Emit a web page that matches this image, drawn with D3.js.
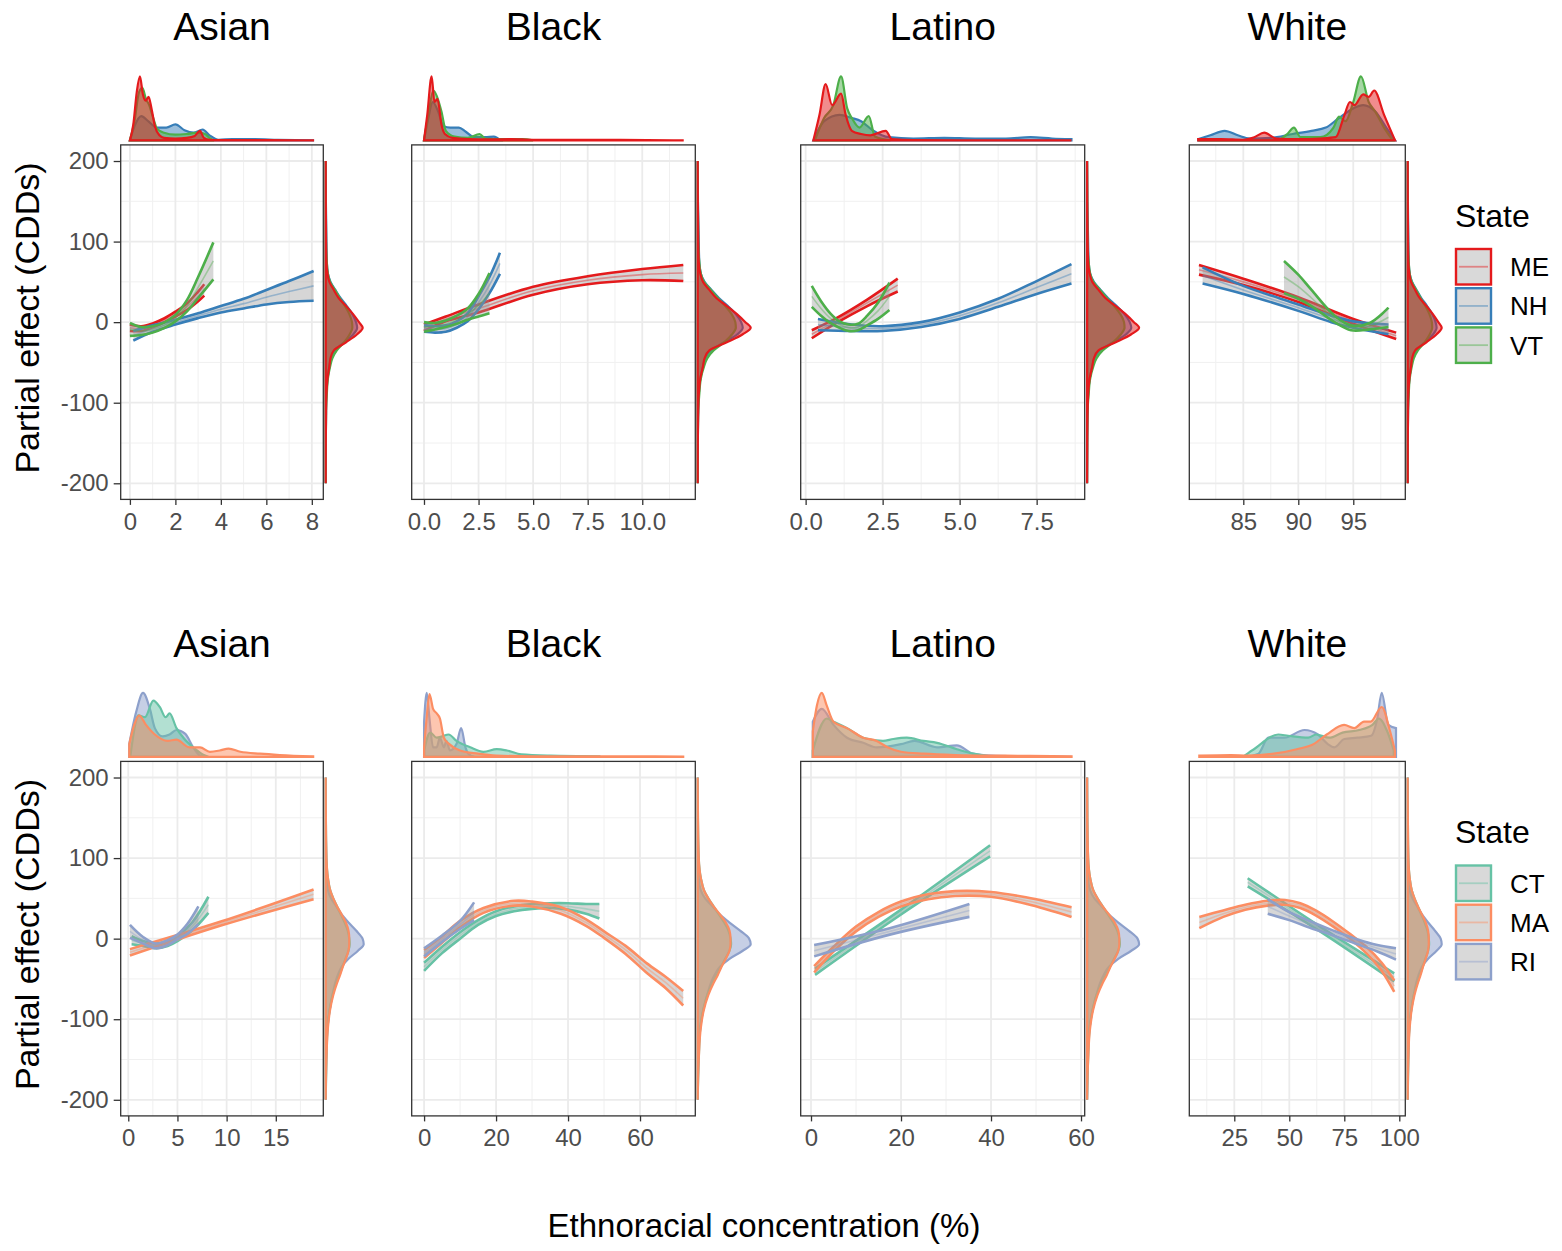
<!DOCTYPE html>
<html><head><meta charset="utf-8">
<script src="https://cdn.jsdelivr.net/npm/d3@7"></script>
<style>body{margin:0;background:#fff}svg{display:block}</style>
</head><body><svg id="chart" width="1562" height="1251"></svg>
<script>
// ---------------- DATA ----------------
const groups = ["Asian", "Black", "Latino", "White"];
const statesTop = ["ME", "NH", "VT"];
const statesBottom = ["CT", "MA", "RI"];
const colorsTop = ["#E41A1C", "#377EB8", "#4DAF4A"];
const colorsBottom = ["#66C2A5", "#FC8D62", "#8DA0CB"];
const yTicks = [-200, -100, 0, 100, 200];
const yTickLabels = ["-200", "-100", "0", "100", "200"];
const xTicksTop = [[0, 2, 4, 6, 8], [0, 2.5, 5, 7.5, 10], [0, 2.5, 5, 7.5], [85, 90, 95]];
const xLabelsTop = [["0", "2", "4", "6", "8"], ["0.0", "2.5", "5.0", "7.5", "10.0"], ["0.0", "2.5", "5.0", "7.5"], ["85", "90", "95"]];
const xTicksBottom = [[0, 5, 10, 15], [0, 20, 40, 60], [0, 20, 40, 60], [25, 50, 75, 100]];
const xLabelsBottom = [["0", "5", "10", "15"], ["0", "20", "40", "60"], ["0", "20", "40", "60"], ["25", "50", "75", "100"]];

// fitted partial effects: [state, x, fit, half-width of band]
const fitAsianTop = [
  ["ME",0,-7,4],["ME",0.5,-8,3],["ME",1,-4,2.5],["ME",1.5,2,2.5],["ME",2,10,3],["ME",2.5,19,4],["ME",3,32,6],["ME",3.27,40,7],
  ["NH",0.15,-17,6],["NH",1,-8,4],["NH",2,0,3],["NH",3,8,3],["NH",4,16,4],["NH",5,23,6],["NH",6,31,9],["NH",7,38,13],["NH",8.08,45,18.5],
  ["VT",0,-9,8],["VT",0.5,-11,5],["VT",1,-9,4],["VT",1.5,-4,3.5],["VT",2,5,4],["VT",2.5,20,7],["VT",3,43,13],["VT",3.67,76,23]
];
const fitBlackTop = [
  ["ME",0,-7,4],["ME",1,4,3],["ME",2.5,17,5],["ME",5,39,5],["ME",7.5,52,5],["ME",10,59,7],["ME",11.88,61,10],
  ["NH",0,-8,4],["NH",0.5,-9,4],["NH",1,-8,4],["NH",1.5,-3,4],["NH",2,6,5],["NH",2.5,24,8],["NH",3,46,10],["NH",3.48,73,13],
  ["VT",0,-6,6],["VT",0.5,-5,4],["VT",1,-2,4],["VT",1.5,3,5],["VT",2,10,7],["VT",2.5,21,14],["VT",3,36,25]
];
const fitLatinoTop = [
  ["ME",0.2,-15,5],["ME",1,2,3],["ME",2,24,4],["ME",2.99,46,8],
  ["NH",0.4,-3,7],["NH",1.5,-7,4],["NH",2.5,-8,3],["NH",3.75,-3,3],["NH",5,8,4],["NH",6.25,24,5],["NH",7.5,43,8],["NH",8.63,60,12],
  ["VT",0.2,32,13],["VT",0.5,17,9],["VT",0.8,5,6],["VT",1.1,-3,4],["VT",1.4,-7,4],["VT",1.7,-6,4],["VT",2.0,2,6],["VT",2.35,14,10],["VT",2.72,32,17]
];
const fitWhiteTop = [
  ["ME",80.97,65,6],["ME",85,50,4],["ME",90,28,3],["ME",95,1,3],["ME",98.9,-17,4],
  ["NH",81.3,58,10],["NH",85,40,5],["NH",90,18,4],["NH",93,4,4],["NH",95,-3,4],["NH",98.2,-9,6],
  ["VT",88.7,56,20],["VT",90,44,15],["VT",91.2,30,10],["VT",93.3,4,4],["VT",94.8,-7,3],["VT",96.5,-5,4],["VT",98.2,6,12]
];
const fitAsianBottom = [
  ["CT",0.34,-2,5],["CT",1.5,-6,3],["CT",2.8,-9,3],["CT",4,-6,3],["CT",5,0,3],["CT",6.5,15,5],["CT",8.15,42,10],
  ["MA",0.17,-17,4],["MA",9.5,19,2.5],["MA",18.84,55,6],
  ["RI",0.17,9,8],["RI",1.5,-2,4],["RI",2.8,-9,3],["RI",4,-5,3],["RI",5,2,3],["RI",6,12,6],["RI",7.13,29,11]
];
const fitBlackBottom = [
  ["CT",0,-35,5],["CT",5,-14,4],["CT",10,4,4],["CT",15,20,3],["CT",20,31,3],["CT",25,37,3],["CT",30,40,3],["CT",35,41,3],["CT",40,40,4],["CT",45,37,6],["CT",48.7,34,9],
  ["MA",0,-19,5],["MA",5,-1,4],["MA",10,18,4],["MA",16.5,35,3],["MA",25,44,3],["MA",30,43,3],["MA",38,35,4],["MA",45,20,4],["MA",50,5,4],["MA",56,-14,5],["MA",62,-37,6],["MA",67,-54,7],["MA",72,-74,9],
  ["RI",0,-17,5],["RI",5,0,4],["RI",10,17,5],["RI",13.9,34,11]
];
const fitLatinoBottom = [
  ["CT",0.9,-41,4],["CT",20,33,3],["CT",39.8,109,7],
  ["MA",0.7,-38,4],["MA",5,-13,3],["MA",10,12,3],["MA",15,30,3],["MA",20,43,3],["MA",26,52,3],["MA",32,56,3],["MA",40,55,3],["MA",48,47,4],["MA",57.9,33,6],
  ["RI",0.7,-15,7],["RI",17.5,9,4],["RI",35.2,35,8]
];
const fitWhiteBottom = [
  ["CT",31.1,70,5],["CT",64,12,3],["CT",97.7,-48,5],
  ["MA",9.1,20,7],["MA",20,31,4],["MA",30,39,3],["MA",40,44,3],["MA",48,45,3],["MA",55,41,3],["MA",62,32,3],["MA",70,18,3],["MA",78,2,3],["MA",85,-14,4],["MA",92,-35,5],["MA",97.7,-59,7],
  ["RI",40.2,40,9],["RI",50,28,5],["RI",60,17,4],["RI",70,7,3],["RI",80,-3,3],["RI",90,-12,4],["RI",98.5,-19,7]
];

// marginal densities of concentration: [state, x, relative height]
const densAsianTop = [
  ["ME",0,0],["ME",0.15,0.25],["ME",0.3,0.75],["ME",0.44,1.0],["ME",0.57,0.72],["ME",0.69,0.62],["ME",0.82,0.68],["ME",0.95,0.5],["ME",1.1,0.22],["ME",1.3,0.08],["ME",1.5,0.04],["ME",2.0,0.03],["ME",2.5,0.04],["ME",2.85,0.07],["ME",3.08,0.15],["ME",3.25,0.04],["ME",3.5,0.01],["ME",4,0.005],["ME",6,0.003],["ME",8.1,0],
  ["VT",0,0],["VT",0.2,0.3],["VT",0.4,0.75],["VT",0.55,0.82],["VT",0.7,0.65],["VT",0.85,0.55],["VT",1.0,0.38],["VT",1.2,0.18],["VT",1.5,0.12],["VT",2.0,0.09],["VT",2.5,0.1],["VT",3.0,0.12],["VT",3.3,0.1],["VT",3.5,0.04],["VT",3.7,0],
  ["NH",0,0],["NH",0.2,0.22],["NH",0.5,0.38],["NH",0.8,0.3],["NH",1.2,0.2],["NH",1.6,0.2],["NH",2.0,0.25],["NH",2.4,0.16],["NH",2.8,0.12],["NH",3.2,0.17],["NH",3.5,0.08],["NH",3.9,0.01],["NH",4.5,0.02],["NH",5.5,0.02],["NH",6.5,0.01],["NH",8.1,0]
];
const densBlackTop = [
  ["ME",0,0],["ME",0.15,0.4],["ME",0.35,1.0],["ME",0.48,0.6],["ME",0.62,0.65],["ME",0.8,0.25],["ME",0.96,0.1],["ME",1.3,0.04],["ME",2,0.02],["ME",3,0.015],["ME",4,0.02],["ME",5,0.01],["ME",7,0.01],["ME",9,0.01],["ME",11.9,0],
  ["VT",0,0],["VT",0.2,0.4],["VT",0.43,0.78],["VT",0.6,0.68],["VT",0.8,0.45],["VT",1.0,0.15],["VT",1.4,0.06],["VT",2.0,0.04],["VT",2.55,0.1],["VT",2.8,0.03],["VT",3.5,0.02],["VT",4.5,0.02],["VT",5,0],
  ["NH",0,0],["NH",0.2,0.35],["NH",0.4,0.6],["NH",0.65,0.45],["NH",0.9,0.22],["NH",1.2,0.2],["NH",1.6,0.2],["NH",1.9,0.14],["NH",2.3,0.05],["NH",2.8,0.05],["NH",3.2,0.06],["NH",3.5,0]
];
const densLatinoTop = [
  ["ME",0.25,0],["ME",0.45,0.4],["ME",0.65,0.88],["ME",0.86,0.55],["ME",1.15,0.73],["ME",1.3,0.4],["ME",1.5,0.15],["ME",1.8,0.1],["ME",2.1,0.08],["ME",2.6,0.15],["ME",2.8,0.02],["ME",3.5,0.005],["ME",8.63,0],
  ["VT",0.3,0],["VT",0.6,0.35],["VT",0.9,0.55],["VT",1.15,1.0],["VT",1.35,0.5],["VT",1.5,0.35],["VT",1.75,0.2],["VT",2.05,0.38],["VT",2.25,0.06],["VT",2.75,0],
  ["NH",0.25,0],["NH",0.6,0.3],["NH",1.1,0.4],["NH",1.5,0.35],["NH",1.8,0.3],["NH",2.2,0.15],["NH",2.7,0.05],["NH",3.5,0.03],["NH",4.5,0.04],["NH",5.5,0.03],["NH",6.5,0.03],["NH",7.3,0.05],["NH",8,0.03],["NH",8.63,0.02]
];
const densWhiteTop = [
  ["ME",80.9,0.02],["ME",83,0.02],["ME",85,0.01],["ME",86,0.05],["ME",86.9,0.12],["ME",88,0.03],["ME",90,0.02],["ME",92,0.03],["ME",93.4,0.05],["ME",94.2,0.4],["ME",94.7,0.6],["ME",95.1,0.55],["ME",95.9,0.72],["ME",96.4,0.68],["ME",96.9,0.78],["ME",97.8,0.4],["ME",98.8,0],
  ["VT",80.9,0],["VT",88,0],["VT",89,0.1],["VT",89.6,0.2],["VT",90.2,0.05],["VT",92,0.05],["VT",93.2,0.2],["VT",93.7,0.37],["VT",94.3,0.3],["VT",95.0,0.6],["VT",95.7,1.0],["VT",96.4,0.6],["VT",97,0.45],["VT",97.8,0.2],["VT",98.6,0],
  ["NH",80.9,0.02],["NH",82,0.08],["NH",83.3,0.15],["NH",84.5,0.08],["NH",85.6,0.03],["NH",87.5,0.04],["NH",89.5,0.1],["NH",91.2,0.15],["NH",92.5,0.2],["NH",93.7,0.35],["NH",95.0,0.5],["NH",95.9,0.55],["NH",97,0.45],["NH",98,0.2],["NH",98.8,0]
];
const densAsianBottom = [
  ["RI",0.1,0.2],["RI",0.8,0.7],["RI",1.5,1.0],["RI",2.2,0.75],["RI",2.7,0.45],["RI",3.5,0.32],["RI",4.2,0.35],["RI",4.9,0.42],["RI",5.8,0.36],["RI",6.6,0.15],["RI",7.3,0.02],["RI",8,0],
  ["CT",0.2,0],["CT",0.7,0.5],["CT",1.0,0.65],["CT",1.7,0.62],["CT",2.55,0.88],["CT",3.2,0.78],["CT",3.8,0.62],["CT",4.2,0.68],["CT",4.9,0.45],["CT",5.6,0.3],["CT",6.6,0.15],["CT",7.8,0.02],["CT",8.15,0],
  ["MA",0.1,0.2],["MA",0.6,0.5],["MA",1.1,0.65],["MA",1.8,0.5],["MA",2.7,0.35],["MA",4.0,0.25],["MA",4.9,0.27],["MA",6.2,0.15],["MA",7.3,0.15],["MA",8.3,0.08],["MA",9.3,0.1],["MA",10.2,0.13],["MA",11.4,0.08],["MA",13.4,0.05],["MA",15.4,0.03],["MA",18.8,0.01]
];
const densBlackBottom = [
  ["RI",0,0.55],["RI",0.74,1.0],["RI",1.5,0.6],["RI",2.5,0.15],["RI",3.5,0.15],["RI",4.4,0.3],["RI",5.5,0.15],["RI",6.2,0.25],["RI",7.2,0.1],["RI",9,0.2],["RI",10.3,0.45],["RI",11.5,0.15],["RI",12.3,0.05],["RI",14,0],
  ["MA",0,0.15],["MA",0.7,0.6],["MA",1.5,0.98],["MA",2.5,0.75],["MA",3.5,0.68],["MA",4.4,0.6],["MA",5.5,0.3],["MA",7,0.2],["MA",10,0.1],["MA",15,0.05],["MA",20,0.02],["MA",30,0.01],["MA",50,0.01],["MA",72,0.005],
  ["CT",0,0.1],["CT",1.7,0.38],["CT",3.5,0.3],["CT",5,0.32],["CT",6.8,0.35],["CT",9,0.25],["CT",12.8,0.15],["CT",16.5,0.08],["CT",20.2,0.12],["CT",23,0.1],["CT",27,0.04],["CT",35,0.02],["CT",48.7,0.01]
];
const densLatinoBottom = [
  ["MA",0.4,0.4],["MA",1.3,0.8],["MA",2.4,1.0],["MA",3.5,0.8],["MA",5,0.55],["MA",8,0.45],["MA",11.6,0.3],["MA",14.6,0.25],["MA",17,0.15],["MA",20,0.08],["MA",25,0.05],["MA",32,0.03],["MA",43,0.02],["MA",57.9,0.01],
  ["RI",0.4,0.55],["RI",2.4,0.75],["RI",5,0.5],["RI",8,0.3],["RI",11.6,0.22],["RI",14.6,0.15],["RI",20,0.2],["RI",23,0.25],["RI",28,0.15],["RI",32.4,0.18],["RI",36,0.05],["RI",40,0.02],["RI",48,0.01],["RI",57.9,0],
  ["CT",0.4,0.1],["CT",3.5,0.6],["CT",5,0.55],["CT",8,0.45],["CT",11.6,0.3],["CT",16,0.25],["CT",18.3,0.28],["CT",21.3,0.3],["CT",25,0.25],["CT",28,0.22],["CT",32.4,0.12],["CT",36,0.05],["CT",39.8,0.01]
];
const densWhiteBottom = [
  ["RI",9.1,0],["RI",30,0],["RI",36,0.05],["RI",40.5,0.3],["RI",47.8,0.3],["RI",56.9,0.42],["RI",63,0.35],["RI",67.5,0.2],["RI",70.5,0.15],["RI",75,0.28],["RI",81,0.3],["RI",87.2,0.33],["RI",90,0.6],["RI",92,1.0],["RI",95,0.5],["RI",98.5,0.45],
  ["CT",9.1,0],["CT",28,0],["CT",33,0.1],["CT",45,0.35],["CT",49.5,0.33],["CT",58.6,0.3],["CT",62.2,0.35],["CT",68.2,0.3],["CT",74.2,0.38],["CT",81.8,0.42],["CT",87.8,0.5],["CT",90.7,0.6],["CT",94.5,0.4],["CT",97.5,0.1],
  ["MA",9.1,0.02],["MA",23.5,0.03],["MA",31,0.02],["MA",43,0.05],["MA",53.4,0.12],["MA",61,0.2],["MA",67,0.35],["MA",74.9,0.5],["MA",79.5,0.45],["MA",84,0.55],["MA",87,0.55],["MA",92,0.78],["MA",95.8,0.4],["MA",98,0.1]
];

// marginal densities of partial effect (shared grid of effect values)
const yDensGrid = [-200,-150,-110,-90,-70,-55,-45,-35,-25,-15,-7,0,10,20,30,40,50,60,75,100,150,200];
const rdensME = [0,0.003,0.01,0.02,0.05,0.1,0.13,0.22,0.55,0.85,1.0,0.9,0.74,0.55,0.35,0.22,0.1,0.05,0.02,0.01,0.003,0];
const rdensNH = [0,0.003,0.01,0.02,0.05,0.1,0.14,0.25,0.5,0.75,0.85,0.82,0.72,0.57,0.4,0.26,0.13,0.06,0.03,0.02,0.005,0];
const rdensVT = [0,0.003,0.01,0.03,0.06,0.12,0.18,0.3,0.5,0.65,0.72,0.71,0.64,0.52,0.38,0.25,0.12,0.06,0.03,0.01,0.004,0];
const rdensCT = [0,0.02,0.05,0.1,0.18,0.28,0.36,0.44,0.52,0.6,0.63,0.62,0.58,0.5,0.4,0.3,0.2,0.12,0.06,0.02,0.005,0];
const rdensMA = [0,0.02,0.06,0.11,0.2,0.3,0.38,0.45,0.53,0.6,0.62,0.62,0.6,0.53,0.42,0.3,0.2,0.12,0.06,0.02,0.005,0];
const rdensRI = [0,0.01,0.05,0.1,0.18,0.25,0.32,0.42,0.6,0.85,1.0,0.97,0.8,0.6,0.42,0.28,0.14,0.06,0.02,0.01,0,0];

// ---------------- LAYOUT ----------------
const FONT = "'Liberation Sans', Arial, Helvetica, sans-serif";
const panelX = [[120.7, 323.3], [411.7, 695.3], [800.7, 1084.7], [1189.3, 1405.3]];
const xDomTop = [[-0.405, 8.505], [-0.563, 12.43], [-0.16, 9.06], [80.09, 99.73]];
const xDomBottom = [[-0.77, 19.83], [-3.44, 75.36], [-2.29, 60.82], [4.55, 102.73]];
const rows = [
  {states: statesTop, colors: colorsTop, fits: [fitAsianTop, fitBlackTop, fitLatinoTop, fitWhiteTop],
   dens: [densAsianTop, densBlackTop, densLatinoTop, densWhiteTop], rdens: [rdensME, rdensNH, rdensVT],
   xDom: xDomTop, xTicks: xTicksTop, xLabels: xLabelsTop, rW: [37, 53, 52, 34], dy: 0, densOrder: ["NH", "VT", "ME"]},
  {states: statesBottom, colors: colorsBottom, fits: [fitAsianBottom, fitBlackBottom, fitLatinoBottom, fitWhiteBottom],
   dens: [densAsianBottom, densBlackBottom, densLatinoBottom, densWhiteBottom], rdens: [rdensCT, rdensMA, rdensRI],
   xDom: xDomBottom, xTicks: xTicksBottom, xLabels: xLabelsBottom, rW: [38, 53, 52, 34], dy: 616.5, densOrder: ["RI", "CT", "MA"]}
];

const svg = d3.select("#chart");
svg.append("rect").attr("width", 1562).attr("height", 1251).attr("fill", "#fff");

rows.forEach((row, r) => {
  const top = 144.9 + row.dy, bottom = 499.4 + row.dy;
  const ys = d3.scaleLinear().domain([-220, 220]).range([bottom, top]);
  const color = d3.scaleOrdinal().domain(row.states).range(row.colors);

  groups.forEach((grp, c) => {
    const [px0, px1] = panelX[c];
    const xs = d3.scaleLinear().domain(row.xDom[c]).range([px0, px1]);
    const ticks = row.xTicks[c];
    const step = ticks[1] - ticks[0];
    const minorX = [];
    for (let k = -3; k < ticks.length + 3; k++) {
      const v = ticks[0] + (k + 0.5) * step;
      if (v > row.xDom[c][0] && v < row.xDom[c][1]) minorX.push(v);
    }
    const minorY = [-150, -50, 50, 150];
    const g = svg.append("g");

    // grid
    g.selectAll(".mx").data(minorX).join("line")
      .attr("x1", d => xs(d)).attr("x2", d => xs(d)).attr("y1", top).attr("y2", bottom)
      .attr("stroke", "#F0F0F0").attr("stroke-width", 1);
    g.selectAll(".my").data(minorY).join("line")
      .attr("x1", px0).attr("x2", px1).attr("y1", d => ys(d)).attr("y2", d => ys(d))
      .attr("stroke", "#F0F0F0").attr("stroke-width", 1);
    g.selectAll(".Mx").data(ticks).join("line")
      .attr("x1", d => xs(d)).attr("x2", d => xs(d)).attr("y1", top).attr("y2", bottom)
      .attr("stroke", "#EBEBEB").attr("stroke-width", 1.8);
    g.selectAll(".My").data(yTicks).join("line")
      .attr("x1", px0).attr("x2", px1).attr("y1", d => ys(d)).attr("y2", d => ys(d))
      .attr("stroke", "#EBEBEB").attr("stroke-width", 1.8);

    // fitted curves with confidence bands
    const byState = d3.group(row.fits[c], d => d[0]);
    const curve = d3.curveCatmullRom.alpha(0.5);
    row.states.forEach(s => {
      const pts = byState.get(s);
      if (!pts) return;
      const col = color(s);
      g.append("path").datum(pts)
        .attr("d", d3.area().curve(curve).x(d => xs(d[1])).y0(d => ys(d[2] - d[3])).y1(d => ys(d[2] + d[3])))
        .attr("fill", "#999999").attr("fill-opacity", 0.4);
      [-1, 1].forEach(sg => {
        g.append("path").datum(pts)
          .attr("d", d3.line().curve(curve).x(d => xs(d[1])).y(d => ys(d[2] + sg * d[3])))
          .attr("fill", "none").attr("stroke", col).attr("stroke-width", 2.6);
      });
      g.append("path").datum(pts)
        .attr("d", d3.line().curve(curve).x(d => xs(d[1])).y(d => ys(d[2])))
        .attr("fill", "none").attr("stroke", col).attr("stroke-opacity", 0.4).attr("stroke-width", 1.6);
    });

    // panel border
    g.append("rect").attr("x", px0).attr("y", top).attr("width", px1 - px0).attr("height", bottom - top)
      .attr("fill", "none").attr("stroke", "#333333").attr("stroke-width", 1.3);

    // top marginal density
    const dBase = top - 4.5;
    const dByState = d3.group(row.dens[c], d => d[0]);
    row.densOrder.forEach(s => {
      const pts = dByState.get(s);
      if (!pts) return;
      g.append("path").datum(pts)
        .attr("d", d3.area().curve(d3.curveMonotoneX).x(d => xs(d[1])).y0(dBase).y1(d => dBase - d[2] * 64))
        .attr("fill", color(s)).attr("fill-opacity", 0.5)
        .attr("stroke", color(s)).attr("stroke-width", 2.2);
    });

    // right marginal density
    const rBase = px1 + 2.4;
    const W = row.rW[c];
    row.densOrder.forEach(s => {
      const arr = row.rdens[row.states.indexOf(s)];
      const pts = yDensGrid.map((v, k) => ({v, h: arr[k]})).reverse();
      g.append("path").datum(pts)
        .attr("d", d3.area().curve(d3.curveMonotoneY).y(d => ys(d.v)).x0(rBase).x1(d => rBase + d.h * W))
        .attr("fill", color(s)).attr("fill-opacity", 0.5)
        .attr("stroke", color(s)).attr("stroke-width", 2.2);
    });

    // x axis
    const ax = svg.append("g").attr("transform", `translate(0,${bottom})`)
      .call(d3.axisBottom(xs).tickValues(ticks).tickFormat((d, i) => row.xLabels[c][i]).tickSize(5.5).tickPadding(8));
    ax.select(".domain").remove();
    ax.attr("font-size", 24).attr("font-family", FONT);
    ax.selectAll("line").attr("stroke", "#333333").attr("stroke-width", 1.3);
    ax.selectAll("text").attr("fill", "#4D4D4D");

    // y axis on the first column
    if (c === 0) {
      const ay = svg.append("g").attr("transform", `translate(${px0},0)`)
        .call(d3.axisLeft(ys).tickValues(yTicks).tickFormat((d, i) => yTickLabels[i]).tickSize(7).tickPadding(5));
      ay.select(".domain").remove();
      ay.attr("font-size", 24).attr("font-family", FONT);
      ay.selectAll("line").attr("stroke", "#333333").attr("stroke-width", 1.3);
      ay.selectAll("text").attr("fill", "#4D4D4D");
    }

    // facet title
    svg.append("text").attr("x", (px0 + px1) / 2).attr("y", 40 + row.dy)
      .attr("text-anchor", "middle").attr("font-family", FONT).attr("font-size", 39).attr("fill", "#000")
      .text(grp);
  });

  // y axis title
  svg.append("text").attr("transform", `translate(39,${318 + row.dy}) rotate(-90)`)
    .attr("text-anchor", "middle").attr("font-family", FONT).attr("font-size", 34).attr("fill", "#000")
    .text("Partial effect (CDDs)");

  // legend
  const lg = svg.append("g");
  lg.append("text").attr("x", 1455).attr("y", 226.7 + row.dy).attr("font-family", FONT).attr("font-size", 32).attr("fill", "#000").text("State");
  row.states.forEach((s, i) => {
    const ky = 249 + row.dy + i * 39.2;
    lg.append("rect").attr("x", 1456).attr("y", ky).attr("width", 35).attr("height", 35.5)
      .attr("fill", "#D9D9D9").attr("stroke", color(s)).attr("stroke-width", 2.4);
    lg.append("line").attr("x1", 1459).attr("x2", 1488).attr("y1", ky + 17.75).attr("y2", ky + 17.75)
      .attr("stroke", color(s)).attr("stroke-opacity", 0.45).attr("stroke-width", 1.8);
    lg.append("text").attr("x", 1510).attr("y", ky + 17.75).attr("dy", "0.36em")
      .attr("font-family", FONT).attr("font-size", 26).attr("fill", "#000").text(s);
  });
});

// x axis title
svg.append("text").attr("x", 764).attr("y", 1236.5).attr("text-anchor", "middle")
  .attr("font-family", FONT).attr("font-size", 33).attr("fill", "#000").text("Ethnoracial concentration (%)");
</script></body></html>
